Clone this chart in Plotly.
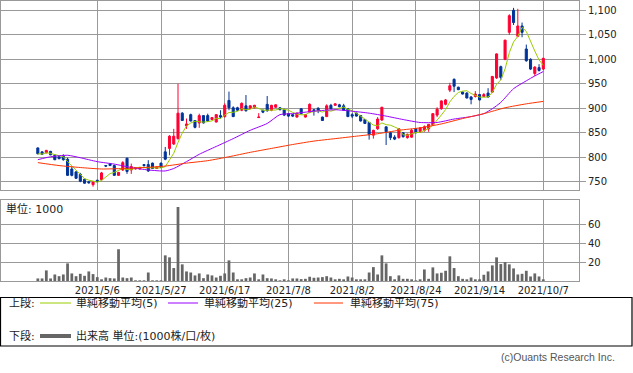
import pandas as pd
import plotly.graph_objects as go

# ---------------- data ----------------
holidays = ["2021-04-29", "2021-05-03", "2021-05-04", "2021-05-05", "2021-07-22",
            "2021-07-23", "2021-08-09", "2021-09-20", "2021-09-23"]
days = pd.bdate_range("2021-04-12", "2021-10-07", freq="C", holidays=holidays)
dates = [f"{d.year}/{d.month}/{d.day}" for d in days]

opens = [819, 811, 809, 812, 804, 801, 802, 796, 776, 770, 765, 755, 750, 744, 753, 754, 783, 787, 783, 763,
         774, 798, 774, 776, 776, 785, 785, 788, 777, 788, 811, 818, 827, 838, 890, 864, 887, 875, 870, 885,
         885, 877, 872, 885, 883, 916, 901, 901, 896, 905, 900, 901, 881, 896, 908, 896, 902, 901, 897, 889,
         887, 882, 899, 882, 892, 897, 900, 882, 883, 906, 906, 907, 905, 899, 887, 890, 885, 877, 871, 845,
         858, 876, 862, 850, 841, 840, 850, 840, 841, 858, 852, 855, 858, 866, 886, 899, 908, 937, 959, 943,
         933, 931, 923, 924, 928, 924, 931, 933, 962, 985, 1000, 1055, 1100, 1047, 1068, 1021, 1000, 971, 983, 980]
highs = [820, 812, 815, 813, 806, 802, 806, 799, 781, 772, 768, 756, 751, 751, 754, 770, 784, 788, 785, 770,
         792, 799, 787, 780, 780, 786, 794, 789, 781, 789, 821, 845, 858, 950, 892, 879, 889, 876, 889, 886,
         889, 882, 888, 896, 910, 934, 904, 903, 912, 927, 906, 907, 890, 897, 925, 907, 908, 902, 899, 890,
         888, 891, 900, 888, 910, 898, 902, 883, 908, 909, 910, 909, 909, 900, 890, 891, 886, 878, 872, 856,
         882, 903, 863, 851, 845, 859, 851, 848, 858, 859, 861, 865, 868, 890, 902, 916, 919, 952, 961, 944,
         934, 933, 925, 935, 929, 931, 941, 966, 1012, 987, 1040, 1092, 1105, 1103, 1075, 1030, 1002, 986, 990, 1003]
lows = [806, 805, 808, 804, 794, 796, 793, 762, 761, 756, 749, 746, 746, 740, 749, 753, 780, 782, 762, 762,
        772, 766, 766, 775, 775, 781, 770, 776, 776, 778, 794, 804, 825, 836, 874, 858, 873, 859, 860, 869,
        873, 876, 871, 879, 881, 896, 882, 895, 894, 893, 899, 900, 880, 890, 893, 894, 901, 896, 884, 882,
        882, 881, 888, 881, 890, 885, 890, 874, 882, 898, 905, 902, 895, 882, 880, 883, 873, 868, 836, 838,
        856, 874, 825, 835, 835, 838, 840, 838, 840, 849, 850, 852, 852, 864, 882, 897, 906, 933, 933, 937,
        928, 920, 908, 922, 916, 923, 922, 931, 960, 958, 998, 1050, 1070, 1045, 1045, 995, 978, 966, 975, 978]
closes = [807, 806, 814, 805, 795, 797, 795, 763, 763, 757, 751, 747, 748, 750, 750, 768, 782, 783, 763, 769,
          789, 771, 781, 779, 779, 783, 772, 777, 780, 779, 796, 843, 843, 890, 875, 868, 874, 861, 885, 870,
          874, 881, 887, 882, 906, 901, 883, 896, 910, 895, 905, 906, 882, 892, 895, 906, 907, 897, 886, 884,
          884, 890, 889, 887, 908, 895, 896, 875, 905, 899, 909, 903, 896, 883, 884, 884, 874, 869, 846, 855,
          878, 902, 852, 840, 837, 858, 842, 847, 855, 850, 860, 862, 867, 889, 898, 915, 917, 946, 945, 938,
          929, 921, 918, 929, 917, 928, 923, 965, 1011, 963, 1039, 1089, 1075, 1068, 1055, 997, 980, 984, 977, 1002]
volume = [2.7, 2.7, 11.2, 2.7, 6.9, 5.1, 6.9, 18.6, 8.0, 5.1, 7.6, 5.5, 10.1, 7.3, 4.1, 1.6, 3.7, 3.0, 2.7, 33.5,
          3.7, 3.0, 3.7, 0.3, 0.3, 0.3, 9.0, 0.3, 0.3, 0.3, 27.1, 25.0, 13.7, 78.2, 17.6, 10.1, 9.0, 5.9, 8.0, 3.0,
          6.9, 5.9, 3.7, 5.5, 8.0, 21.8, 9.0, 1.6, 1.6, 3.0, 3.7, 8.0, 1.6, 6.9, 3.0, 2.7, 1.2, 0.5, 1.2, 0.5,
          2.7, 2.7, 2.0, 2.3, 4.5, 3.4, 3.7, 4.1, 5.1, 3.7, 0.9, 2.3, 0.9, 4.8, 3.7, 1.6, 1.6, 1.6, 9.0, 14.7,
          6.9, 27.1, 18.6, 5.1, 0.9, 5.9, 2.3, 2.3, 0.9, 0.3, 1.6, 12.2, 2.3, 14.4, 8.0, 8.7, 10.8, 26.1, 13.7, 5.1,
          2.3, 1.2, 3.7, 1.6, 1.2, 6.6, 10.1, 16.5, 25.0, 17.9, 20.0, 17.6, 13.3, 6.9, 7.6, 10.8, 4.8, 8.0, 4.8, 0.9]

# moving averages (index into dates -> value)
ma25_idx = [0, 3, 7, 10, 14, 18, 22, 26, 30, 32, 35, 38, 42, 46, 50, 54, 57, 60, 65, 70, 74, 78, 82, 86,
            90, 94, 98, 102, 105, 107, 109, 112, 115, 117, 119]
ma25_val = [795, 801, 804, 799, 791, 786, 779, 774, 772, 777, 791, 806, 822, 838, 855, 869, 887, 889, 894,
            897, 894, 890, 884, 877, 871, 871, 878, 883, 889, 899, 912, 940, 956, 966, 975]
ma75_idx = [0, 5, 10, 15, 20, 25, 30, 35, 40, 45, 50, 55, 60, 65, 70, 75, 80, 85, 90, 95, 100, 105, 110, 115, 119]
ma75_val = [789, 783, 779, 776, 777, 779, 782, 788, 793, 801, 810, 818, 826, 833, 838, 843, 848, 855, 860,
            868, 879, 889, 901, 909, 914]

tick_dates = dates[14::15]
price_ticks = [750, 800, 850, 900, 950, 1000, 1050, 1100]
vol_ticks = [20, 40, 60]

ma5 = pd.Series(closes).rolling(5, min_periods=1).mean().tolist()

# ---------------- style ----------------
RED = "#FF0033"
BLUE = "#003399"
GREEN = "#99CC00"
PURPLE = "#9900FF"
ORANGE = "#FF3300"
GRID = "#999999"
FONT = "DejaVu Sans, Noto Sans CJK JP, sans-serif"
W, H = 633, 373
ML, MR, MT, MB = 1, 54, 1, 92
PW, PH = W - ML - MR, H - MT - MB


def px(x):
    return (x - ML) / PW


def py(y):
    return 1 - (y - MT) / PH


fig = go.Figure()
fig.add_trace(go.Candlestick(
    x=dates, open=opens, high=highs, low=lows, close=closes,
    increasing=dict(line=dict(color=RED, width=1), fillcolor=RED),
    decreasing=dict(line=dict(color=BLUE, width=1), fillcolor=BLUE),
    whiskerwidth=0, showlegend=False, hoverinfo="skip", xaxis="x", yaxis="y"))
fig.add_trace(go.Scatter(x=dates, y=ma5, mode="lines", line=dict(color=GREEN, width=1),
                         showlegend=False, hoverinfo="skip", xaxis="x", yaxis="y"))
fig.add_trace(go.Scatter(x=[dates[i] for i in ma25_idx], y=ma25_val, mode="lines",
                         line=dict(color=PURPLE, width=1, shape="spline", smoothing=0.6),
                         showlegend=False, hoverinfo="skip", xaxis="x", yaxis="y"))
fig.add_trace(go.Scatter(x=[dates[i] for i in ma75_idx], y=ma75_val, mode="lines",
                         line=dict(color=ORANGE, width=1, shape="spline", smoothing=0.6),
                         showlegend=False, hoverinfo="skip", xaxis="x", yaxis="y"))
fig.add_trace(go.Bar(x=dates, y=volume, marker=dict(color="#666666", line=dict(width=0)),
                     width=0.65, showlegend=False, hoverinfo="skip", xaxis="x2", yaxis="y2"))

xr = [(ML - 37.83) / 4.2476, (ML + PW - 37.83) / 4.2476]
common_x = dict(type="category", range=xr, tickvals=tick_dates, showgrid=True, gridcolor=GRID,
                gridwidth=1, showline=True, mirror=True, linecolor=GRID, linewidth=1, ticks="",
                zeroline=False, fixedrange=True)
fig.update_layout(
    width=W, height=H, margin=dict(l=ML, r=MR, t=MT, b=MB),
    paper_bgcolor="white", plot_bgcolor="white",
    font=dict(family=FONT, size=10, color="#222222"),
    xaxis=dict(common_x, domain=[0, 1], anchor="y", showticklabels=False,
               rangeslider=dict(visible=False)),
    xaxis2=dict(common_x, domain=[0, 1], anchor="y2", showticklabels=True,
                tickfont=dict(size=10, color="#222222")),
    yaxis=dict(domain=[py(190.3), 1], side="right", range=[732.5, 1119], tickvals=price_ticks,
               tickformat=",d", ticks="outside", ticklen=6, tickcolor=GRID, showline=True, mirror=True,
               linecolor=GRID, gridcolor=GRID, zeroline=False, anchor="x"),
    yaxis2=dict(domain=[0, py(200.3)], side="right", range=[0, 85.3], tickvals=vol_ticks,
                ticks="outside", ticklen=6, tickcolor=GRID, showline=True, mirror=True,
                linecolor=GRID, gridcolor=GRID, zeroline=False, anchor="x2"),
    boxgap=0.3,
)

shapes = [
    dict(type="rect", xref="paper", yref="paper", x0=px(0.5), x1=px(632), y0=py(346), y1=py(297.5),
         line=dict(color="black", width=1.2), fillcolor="rgba(0,0,0,0)"),
    dict(type="line", xref="paper", yref="paper", x0=px(40), x1=px(71), y0=py(303), y1=py(303),
         line=dict(color=GREEN, width=1)),
    dict(type="line", xref="paper", yref="paper", x0=px(168), x1=px(198), y0=py(303), y1=py(303),
         line=dict(color=PURPLE, width=1)),
    dict(type="line", xref="paper", yref="paper", x0=px(314), x1=px(343), y0=py(303), y1=py(303),
         line=dict(color=ORANGE, width=1)),
    dict(type="line", xref="paper", yref="paper", x0=px(40), x1=px(71), y0=py(336), y1=py(336),
         line=dict(color="#666666", width=4)),
]
fig.update_layout(shapes=shapes)


def label(x, y, text, size=11, color="#222222", anchor="left", family=FONT):
    fig.add_annotation(xref="paper", yref="paper", x=px(x), y=py(y), text=text, showarrow=False,
                       xanchor=anchor, yanchor="middle", font=dict(size=size, color=color, family=family))


label(7, 303, "上段:")
label(74, 303, "単純移動平均(5)")
label(202, 303, "単純移動平均(25)")
label(348, 303, "単純移動平均(75)")
label(7, 336, "下段:")
label(74, 336, "出来高 単位:(1000株/口/枚)")
label(4, 209, "単位: 1000")
label(617, 357, "(c)Ouants Research Inc.", size=10.5, color="#555555", anchor="right",
      family="Liberation Sans, Arial, sans-serif")

fig.write_html("out.html")
